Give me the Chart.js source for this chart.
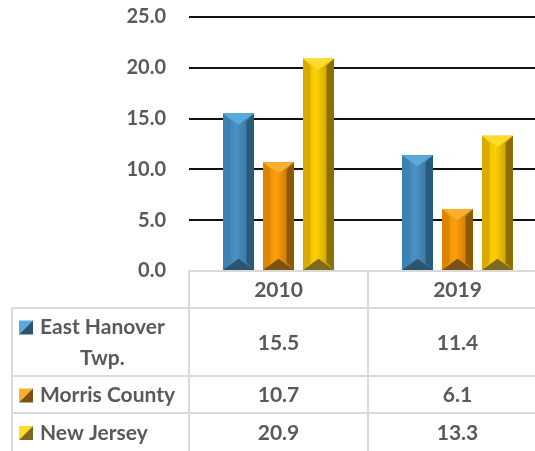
<!DOCTYPE html>
<html>
<head>
<meta charset="utf-8">
<script src="https://cdn.jsdelivr.net/npm/chart.js@4.4.0/dist/chart.umd.min.js"></script>
<style>
  html, body { margin: 0; padding: 0; overflow: hidden; background: #fff; }
  canvas { display: block; }
</style>
</head>
<body>
<canvas id="chart" width="547" height="451"></canvas>
<script>
const years = ['2010', '2019'];
const seriesNames = [['East Hanover', 'Twp.'], ['Morris County'], ['New Jersey']];
const eastHanover = [15.5, 11.4];
const morrisCounty = [10.7, 6.1];
const newJersey = [20.9, 13.3];
const yTicks = [0, 5, 10, 15, 20, 25];

const FONT = 'Lato, "Open Sans", sans-serif';
const TEXT = '#595959';
const LINE = '#d9d9d9';

// bevel shades for each series: top, left, face (l/mid/r), right, bottom
const shades = [
  { base: '#3a7db0', top: '#5aaade', left: '#3b82b4', face: ['#3a7dab', '#4a92c4', '#30698f'], right: '#2a5a7a', bottom: '#2b5470' },
  { base: '#f08c00', top: '#ffad2e', left: '#dc8500', face: ['#e08a00', '#ff9e0a', '#b06c00'], right: '#8e5800', bottom: '#7c5214' },
  { base: '#e8b800', top: '#ffdc2a', left: '#d9aa00', face: ['#e0b400', '#ffd000', '#b08c00'], right: '#8c6e00', bottom: '#7d6a1e' }
];

function poly(c, pts, color) {
  c.beginPath();
  c.moveTo(pts[0][0], pts[0][1]);
  for (let i = 1; i < pts.length; i++) c.lineTo(pts[i][0], pts[i][1]);
  c.closePath();
  c.fillStyle = color;
  c.fill();
}

function bevelBar(c, x0, x1, y0, y1, s) {
  const w = x1 - x0, hgt = y1 - y0;
  const b = Math.min(w * 0.24, hgt / 2);
  const t = Math.min(w * 0.36, hgt / 2);
  const cx = (x0 + x1) / 2;
  const g = c.createLinearGradient(x0, 0, x1, 0);
  g.addColorStop(0, s.face[0]);
  g.addColorStop(0.42, s.face[1]);
  g.addColorStop(1, s.face[2]);
  c.fillStyle = g;
  c.fillRect(x0, y0, w, hgt);
  poly(c, [[x0, y0], [x0 + b, y0 + b], [x0 + b, y1 - b], [x0, y1]], s.left);
  poly(c, [[x1, y0], [x1 - b, y0 + b], [x1 - b, y1 - b], [x1, y1]], s.right);
  poly(c, [[x0, y0], [x1, y0], [cx, y0 + t]], s.top);
  poly(c, [[x0, y1], [x1, y1], [cx, y1 - t]], s.bottom);
}

function legendKey(c, x, y, size, s) {
  poly(c, [[x, y], [x + size, y], [x, y + size]], s.top);
  poly(c, [[x + size, y], [x + size, y + size], [x, y + size]], s.bottom);
}

const bevelPlugin = {
  id: 'bevel',
  afterDatasetsDraw(chart) {
    const c = chart.ctx;
    c.save();
    chart.data.datasets.forEach((ds, i) => {
      chart.getDatasetMeta(i).data.forEach(bar => {
        const p = bar.getProps(['x', 'y', 'base', 'width'], true);
        bevelBar(c, p.x - p.width / 2, p.x + p.width / 2, p.y, p.base, shades[i]);
      });
    });
    c.restore();
  }
};

const tablePlugin = {
  id: 'dataTable',
  afterDraw(chart) {
    const c = chart.ctx;
    const xs = chart.scales.x;
    const area = chart.chartArea;
    const half = (xs.getPixelForValue(1) - xs.getPixelForValue(0)) / 2;
    const cols = years.map((_, i) => xs.getPixelForValue(i));
    const tableLeft = 12;
    const rowHeights = [37, 68, 37, 38];
    const rows = [area.bottom];
    rowHeights.forEach(h => rows.push(rows[rows.length - 1] + h));
    const right = chart.width;

    c.save();
    c.strokeStyle = LINE;
    c.lineWidth = 2;
    c.beginPath();
    // header top line and category column verticals
    c.moveTo(area.left, rows[0]); c.lineTo(right, rows[0]);
    cols.forEach(x => {
      c.moveTo(x - half, rows[0]); c.lineTo(x - half, chart.height);
    });
    c.moveTo(right - 1, rows[0]); c.lineTo(right - 1, chart.height);
    // row lines
    for (let r = 1; r < rows.length - 1; r++) {
      c.moveTo(tableLeft, rows[r]); c.lineTo(right, rows[r]);
    }
    c.moveTo(tableLeft, rows[1]); c.lineTo(tableLeft, chart.height);
    c.stroke();

    c.font = 'bold 21px ' + FONT;
    c.textAlign = 'center';
    c.textBaseline = 'middle';
    c.fillStyle = TEXT;
    years.forEach((yr, i) => c.fillText(yr, cols[i], (rows[0] + rows[1]) / 2 + 1));

    chart.data.datasets.forEach((ds, s) => {
      const top = rows[s + 1], bot = rows[s + 2], mid = (top + bot) / 2 + 1;
      c.fillStyle = TEXT;
      ds.data.forEach((v, i) => c.fillText(v.toFixed(1), cols[i], mid));
      const lines = seriesNames[s];
      const lineH = 31;
      const textX = 40;
      const firstW = c.measureText(lines[0]).width;
      const y0 = mid - (lines.length - 1) * lineH / 2;
      lines.forEach((ln, k) => {
        c.textAlign = k === 0 ? 'left' : 'center';
        c.fillText(ln, k === 0 ? textX : textX + firstW / 2, y0 + k * lineH);
      });
      c.textAlign = 'center';
      legendKey(c, 19, y0 - 7, 14, shades[s]);
    });
    c.restore();
  }
};

new Chart(document.getElementById('chart'), {
  type: 'bar',
  data: {
    labels: years,
    datasets: [
      { label: seriesNames[0].join(' '), data: eastHanover, backgroundColor: shades[0].base },
      { label: seriesNames[1].join(' '), data: morrisCounty, backgroundColor: shades[1].base },
      { label: seriesNames[2].join(' '), data: newJersey, backgroundColor: shades[2].base }
    ]
  },
  options: {
    responsive: false,
    animation: false,
    layout: { padding: { top: 17, bottom: 180, left: 0, right: 0 } },
    datasets: { bar: { categoryPercentage: 0.67, barPercentage: 0.775 } },
    plugins: { legend: { display: false }, tooltip: { enabled: false } },
    scales: {
      x: { display: false },
      y: {
        min: 0,
        max: 25,
        afterBuildTicks: axis => { axis.ticks = yTicks.map(v => ({ value: v })); },
        afterFit: axis => {
          axis.width = 189;
          axis.paddingTop = 0;
          axis.paddingBottom = 0;
        },
        border: { display: false },
        grid: {
          drawTicks: false,
          lineWidth: 2,
          color: ctx => ctx.tick && ctx.tick.value === 0 ? 'rgba(0,0,0,0)' : '#111'
        },
        ticks: {
          padding: 23,
          color: TEXT,
          font: { family: FONT, size: 20, weight: 'bold' },
          callback: v => v.toFixed(1)
        }
      }
    }
  },
  plugins: [bevelPlugin, tablePlugin]
});
</script>
</body>
</html>
